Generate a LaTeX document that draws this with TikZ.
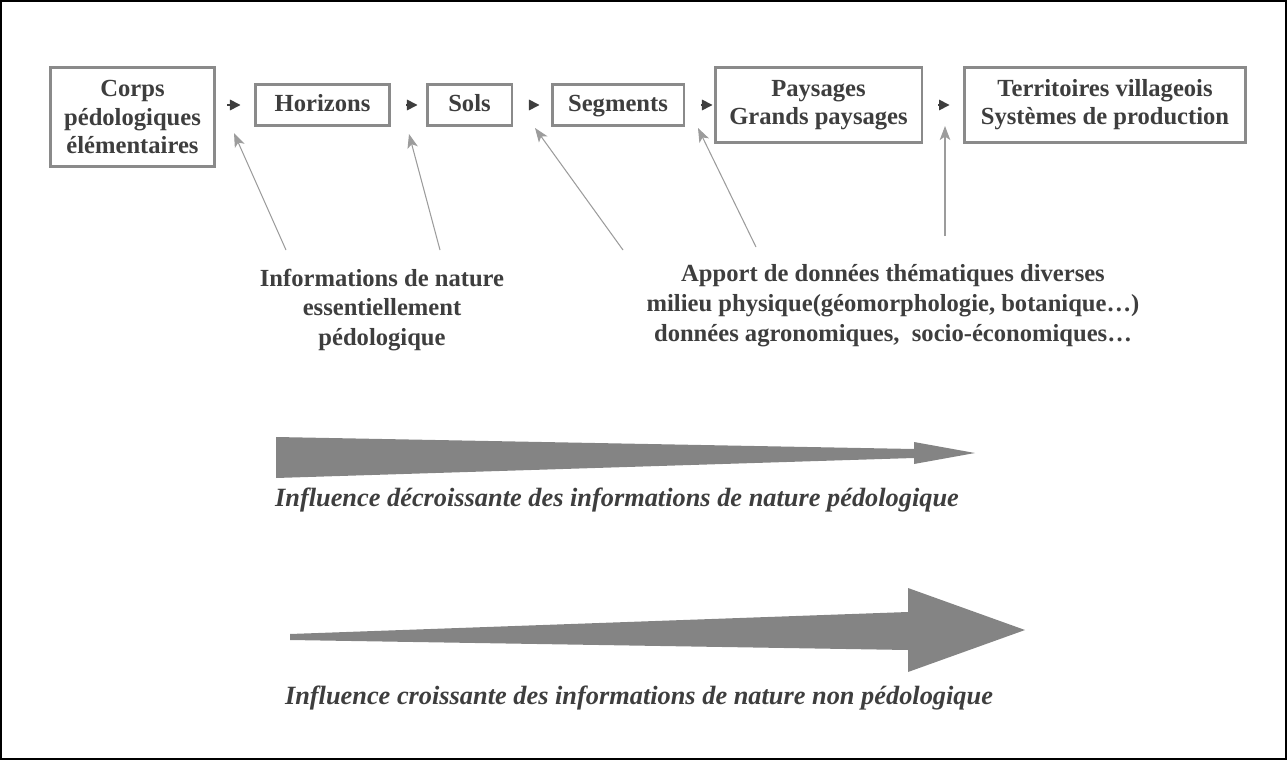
\documentclass[tikz,border=0pt]{standalone}
\usepackage{fontspec}
\setmainfont{Liberation Serif}
\usetikzlibrary{positioning,arrows.meta}
\definecolor{BoxGray}{HTML}{8A8A8A}
\definecolor{InkGray}{HTML}{3E3E3E}
\definecolor{ArrowGray}{HTML}{848484}

\begin{document}
\begin{tikzpicture}[
    x=0.02cm, y=-0.02cm,
    every node/.style={
        text=InkGray,
        font=\bfseries\fontsize{14}{16}\selectfont,
        align=center,
        inner sep=0pt
    },
    box/.style={
        draw=BoxGray,
        line width=1.7pt,
        fill=white
    },
    onebox/.style={
        box,
        minimum height=0.82cm,
        text height=10pt,
        text depth=3pt
    },
    link/.style={
        draw=InkGray,
        line width=0.9pt,
        -{Triangle[length=6pt,width=6pt]}
    },
    pointer/.style={
        draw=BoxGray!85,
        line width=0.6pt,
        -{Stealth[length=8pt,width=6pt,inset=2pt]}
    },
    note/.style={
        font=\bfseries\fontsize{14}{17}\selectfont
    },
    trend/.style={
        font=\bfseries\itshape\fontsize{15}{17}\selectfont,
        text=InkGray
    }
]

\useasboundingbox (0,0) rectangle (1287,760);
\draw[line width=1pt, black] (1,1) rectangle (1286,759);

% chain of levels
\node[box, minimum width=3.3cm, minimum height=2.0cm] (corps) at (132.5,117) {Corps\\pédologiques\\élémentaires};
\node[onebox, minimum width=2.7cm] (horizons) at (322.5,105) {Horizons};
\node[onebox, minimum width=1.7cm] (sols) at (469.5,105) {Sols};
\node[onebox, minimum width=2.64cm] (segments) at (618,105) {Segments};
\node[box, minimum width=4.14cm, minimum height=1.5cm] (paysages) at (818.5,105) {Paysages\\Grands paysages};
\node[box, minimum width=5.64cm, minimum height=1.5cm] (territoires) at (1105,105) {Territoires villageois\\Systèmes de production};

\draw[link, shorten <=0.22cm, shorten >=0.26cm] (corps.east |- horizons.west) -- (horizons.west);
\draw[link, shorten <=0.3cm, shorten >=0.16cm] (horizons) -- (sols);
\draw[link, shorten <=0.34cm, shorten >=0.22cm] (sols) -- (segments);
\draw[link, shorten <=0.32cm, shorten >=0.02cm] (segments) -- (paysages);
\draw[link, shorten <=0.3cm, shorten >=0.26cm] (paysages) -- (territoires);

% sources of information
\node[note] (pedo) at (382,310) {Informations de nature\\essentiellement\\pédologique};
\node[note] (apport) at (893,306) {Apport de données thématiques diverses\\milieu physique(géomorphologie, botanique…)\\données agronomiques,~ socio-économiques…};

\coordinate (p1) at (286,250);
\coordinate (p2) at (440,250);
\coordinate (p3) at (623,250);
\coordinate (p4) at (756,247);
\coordinate (p5) at (945,236);
\coordinate (t1) at (234,133);
\coordinate (t2) at (409,134);
\coordinate (t3) at (535,128);
\coordinate (t4) at (698,128);
\coordinate (t5) at (945,126);

\draw[pointer] (p1) -- (t1);
\draw[pointer] (p2) -- (t2);
\draw[pointer] (p3) -- (t3);
\draw[pointer] (p4) -- (t4);
\draw[pointer] (p5) -- (t5);

% influence arrows
\fill[ArrowGray] (276,437) -- (914,449) -- (914,442) -- (975,453) -- (914,464) -- (914,458) -- (276,478) -- cycle;
\node[trend] (decr) at (617,500) {Influence décroissante des informations de nature pédologique};

\fill[ArrowGray] (290,634) -- (908,612) -- (908,588) -- (1025,630) -- (908,672) -- (908,650) -- (290,640) -- cycle;
\node[trend] (incr) at (639,698) {Influence croissante des informations de nature non pédologique};

\end{tikzpicture}
\end{document}
